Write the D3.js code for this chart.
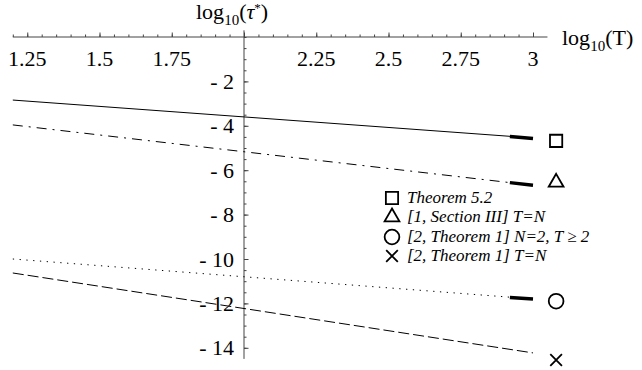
<!doctype html>
<html>
<head>
<meta charset="utf-8">
<title>log10(tau*) vs log10(T)</title>
<script src="https://cdn.jsdelivr.net/npm/d3@7"></script>
<style>
  body { margin: 0; background: #fff; }
  svg { display: block; }
  text { font-family: "Liberation Serif", "Times New Roman", Times, serif; fill: #000; }
</style>
</head>
<body>
<div id="viz"></div>
<script>
// values
const lineX = [1.2, 3.0];
const thickX = [2.92, 3.0];
const markerX = 3.08;

const solidY = [-2.84, -4.55];     // Theorem 5.2
const dashDotY = [-3.96, -6.68];   // [1, Section III]
const dottedY = [-10.0, -11.8];    // [2, Theorem 1] N=2
const dashedY = [-10.63, -14.23];  // [2, Theorem 1] T=N

const solidThick = [-4.48, -4.57];
const dashDotThick = [-6.56, -6.68];
const dottedThick = [-11.73, -11.8];

const markerY = [-4.68, -6.55, -11.9, -14.55];
const markerKind = ["square", "triangle", "circle", "cross"];

const legendLabels = [
  "Theorem 5.2",
  "[1, Section III] T=N",
  "[2, Theorem 1] N=2, T \u2265 2",
  "[2, Theorem 1] T=N"
];

const xMajor = [1.25, 1.5, 1.75, 2.25, 2.5, 2.75, 3];
const yMajor = [-2, -4, -6, -8, -10, -12, -14];

const W = 642, H = 370;
const svg = d3.select("#viz").append("svg").attr("width", W).attr("height", H);

const x = d3.scaleLinear().domain([2, 3]).range([244, 533]);
const y = d3.scaleLinear().domain([0, -14]).range([37, 347.8]);

const axisColor = "#444";

// x axis
svg.append("line")
  .attr("x1", x(1.2)).attr("x2", x(3.05))
  .attr("y1", y(0)).attr("y2", y(0))
  .attr("stroke", axisColor).attr("stroke-width", 1);

const xMinor = d3.range(24, 62).map(d => d / 20).filter(d => d <= 3.0001);
svg.append("g").attr("transform", `translate(0,${y(0)})`)
  .call(d3.axisBottom(x).tickValues(xMinor).tickSize(-2.5).tickFormat(""))
  .call(g => g.select(".domain").remove())
  .call(g => g.selectAll("line").attr("stroke", axisColor));

svg.append("g").attr("transform", `translate(0,${y(0)})`)
  .call(d3.axisBottom(x).tickValues(d3.range(5, 13).map(d => d / 4)).tickSize(-4.5).tickFormat(""))
  .call(g => g.select(".domain").remove())
  .call(g => g.selectAll("line").attr("stroke", axisColor));

svg.append("g").selectAll("text").data(xMajor).join("text")
  .attr("x", d => x(d)).attr("y", 66)
  .attr("text-anchor", "middle")
  .style("font-size", "22px")
  .text(d => d3.format("")(d));

// y axis
svg.append("line")
  .attr("x1", x(2)).attr("x2", x(2))
  .attr("y1", y(0.3)).attr("y2", y(-14.5))
  .attr("stroke", axisColor).attr("stroke-width", 1);

const yMinorVals = d3.range(0, 29).map(d => -d / 2);
svg.append("g").attr("transform", `translate(${x(2)},0)`)
  .call(d3.axisLeft(y).tickValues(yMinorVals).tickSize(-2.5).tickFormat(""))
  .call(g => g.select(".domain").remove())
  .call(g => g.selectAll("line").attr("stroke", axisColor));

svg.append("g").attr("transform", `translate(${x(2)},0)`)
  .call(d3.axisLeft(y).tickValues(yMajor).tickSize(-4.5).tickFormat(""))
  .call(g => g.select(".domain").remove())
  .call(g => g.selectAll("line").attr("stroke", axisColor));

svg.append("g").selectAll("text").data(yMajor).join("text")
  .attr("x", 234).attr("y", d => y(d) + 7.5)
  .attr("text-anchor", "end")
  .style("font-size", "22px")
  .text(d => "- " + Math.abs(d));

// axis titles
const yTitle = svg.append("text").attr("x", 196).attr("y", 19).style("font-size", "22px");
yTitle.append("tspan").text("log");
yTitle.append("tspan").attr("dy", 6).style("font-size", "15px").text("10");
yTitle.append("tspan").attr("dy", -6).text("(");
yTitle.append("tspan").style("font-style", "italic").text("\u03C4");
yTitle.append("tspan").attr("dy", -7).style("font-size", "13px").text("*");
yTitle.append("tspan").attr("dy", 7).text(")");

const xTitle = svg.append("text").attr("x", 562).attr("y", 45).style("font-size", "22px");
xTitle.append("tspan").text("log");
xTitle.append("tspan").attr("dy", 6).style("font-size", "15px").text("10");
xTitle.append("tspan").attr("dy", -6).text("(T)");

// curves
const line = d3.line().x(d => x(d[0])).y(d => y(d[1]));
const series = [
  { ys: solidY, dash: null },
  { ys: dashDotY, dash: "10,6,2,6" },
  { ys: dottedY, dash: "1.3,5.5" },
  { ys: dashedY, dash: "11,4" }
];
series.forEach(s => {
  svg.append("path")
    .attr("d", line(d3.zip(lineX, s.ys)))
    .attr("fill", "none").attr("stroke", "#000").attr("stroke-width", 1)
    .attr("stroke-dasharray", s.dash);
});

[solidThick, dashDotThick, dottedThick].forEach(t => {
  svg.append("path")
    .attr("d", line(d3.zip(thickX, t)))
    .attr("fill", "none").attr("stroke", "#000").attr("stroke-width", 3.5);
});

// markers
const sym = {
  square: d3.symbol(d3.symbolSquare, 150),
  triangle: d3.symbol(d3.symbolTriangle, 95),
  circle: d3.symbol(d3.symbolCircle, 170),
  cross: d3.symbol(d3.symbolX, 90)
};
function drawMarker(g, kind, cx, cy) {
  g.append("path")
    .attr("d", sym[kind]())
    .attr("transform", `translate(${cx},${cy})`)
    .attr("fill", "none").attr("stroke", "#000").attr("stroke-width", 1.8);
}
markerKind.forEach((k, i) => drawMarker(svg, k, x(markerX), y(markerY[i])));

// legend
const legendY = [198, 217, 237, 256];
const legend = svg.append("g");
legendLabels.forEach((lab, i) => {
  drawMarker(legend, markerKind[i], 392, legendY[i]);
  legend.append("text")
    .attr("x", 407).attr("y", legendY[i] + 5)
    .style("font-size", "17px").style("font-style", "italic")
    .text(lab);
});
</script>
</body>
</html>
